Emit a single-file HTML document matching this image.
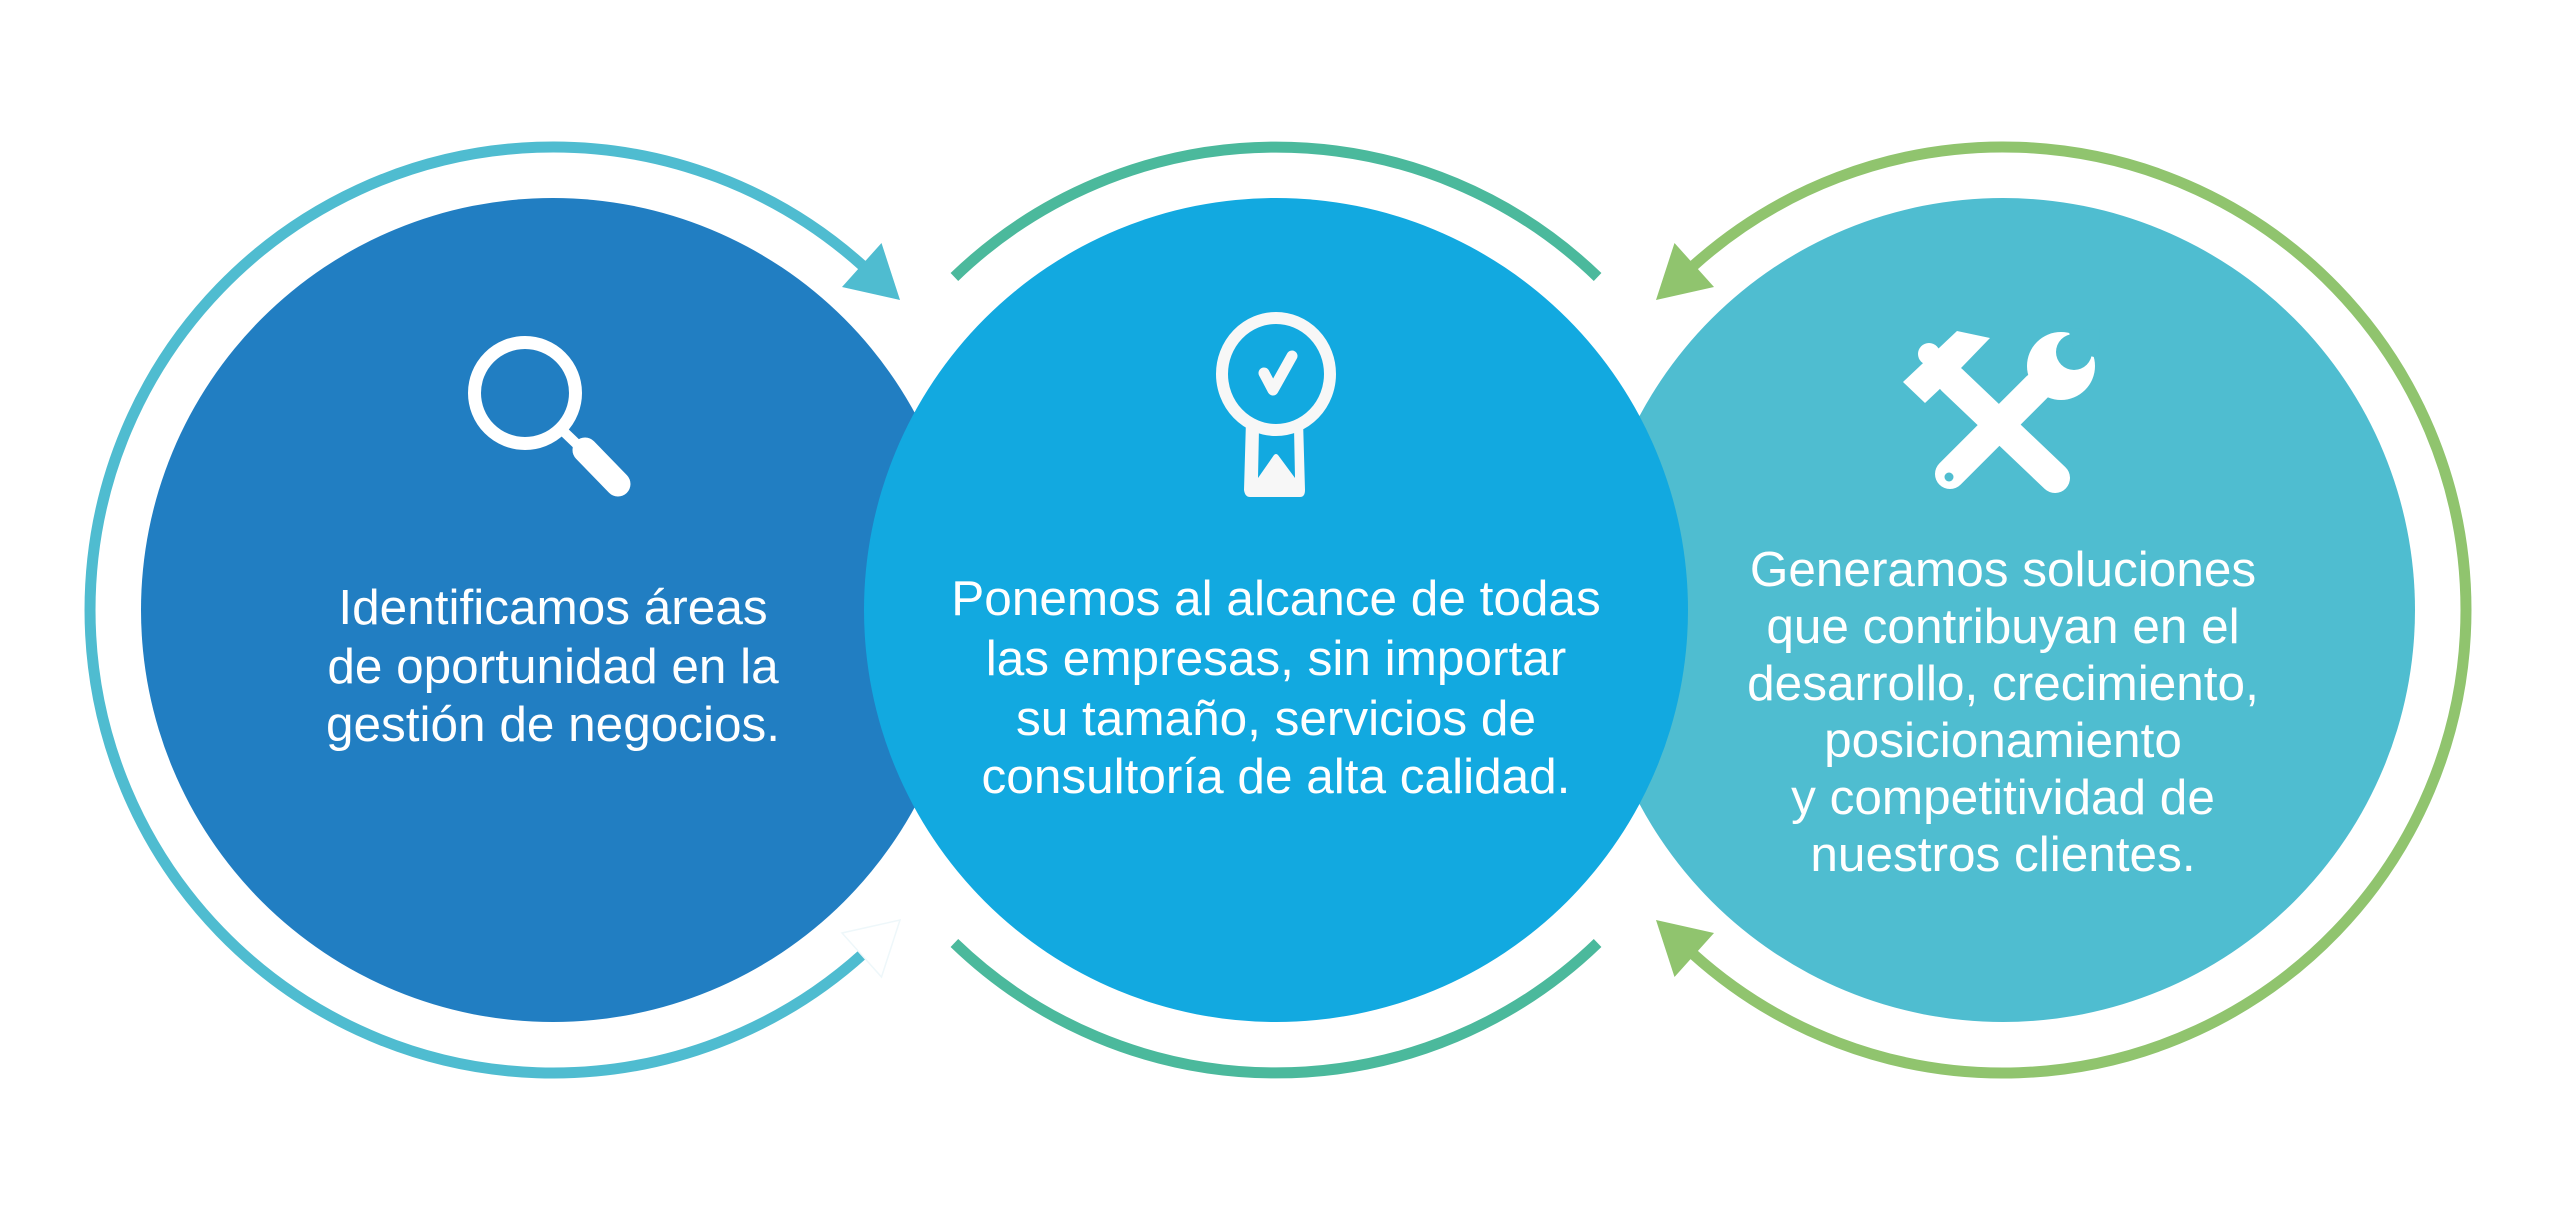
<!DOCTYPE html>
<html><head><meta charset="utf-8"><style>
html,body{margin:0;padding:0;background:#fff;}
svg{display:block}
text{font-family:"Liberation Sans",sans-serif;font-size:49.5px;fill:#fff;text-anchor:middle}
</style></head><body>
<svg width="2550" height="1220" viewBox="0 0 2550 1220" xmlns="http://www.w3.org/2000/svg">
<rect width="2550" height="1220" fill="#fff"/>
<circle cx="553" cy="610" r="412" fill="#217ec2"/>
<circle cx="2003" cy="610" r="412" fill="#4fbdd0"/>
<circle cx="1276" cy="610" r="412" fill="#12a9e0"/>

<path d="M862.8 954.1 A463 463 0 1 1 862.8 265.9" fill="none" stroke="#4fbcd0" stroke-width="11"/>
<polygon points="900,300 881.5,243 842,287" fill="#4fbcd0"/>
<polygon points="900,920 881.5,977 842,933" fill="#fff" stroke="#eef7fa" stroke-width="1.5"/>

<path d="M954.4 277 A463 463 0 0 1 1597.6 277" fill="none" stroke="#4bb99c" stroke-width="11"/>
<path d="M1597.6 943 A463 463 0 0 1 954.4 943" fill="none" stroke="#4bb99c" stroke-width="11"/>

<path d="M1693.2 265.9 A463 463 0 1 1 1693.2 954.1" fill="none" stroke="#90c46e" stroke-width="11"/>
<polygon points="1656,300 1674.5,243 1714,287" fill="#90c46e"/>
<polygon points="1656,920 1674.5,977 1714,933" fill="#90c46e"/>

<circle cx="525" cy="393" r="50.5" fill="none" stroke="#fff" stroke-width="13"/>
<line x1="560" y1="428" x2="585" y2="452" stroke="#fff" stroke-width="10"/>
<line x1="585" y1="450" x2="618" y2="484" stroke="#fff" stroke-width="25" stroke-linecap="round"/>

<ellipse cx="1276" cy="374" rx="54" ry="56" fill="none" stroke="#f7f7f7" stroke-width="12"/>
<polyline points="1264,373 1273,390 1292,356" fill="none" stroke="#f7f7f7" stroke-width="11" stroke-linecap="round" stroke-linejoin="round"/>
<path d="M1246 420 L1244 490 Q1245 497 1250 497 L1300 497 Q1305 497 1305 490 L1303 420 L1294 427 L1295 478 L1278 455 Q1276 453 1274 455 L1258 478 L1259 428 Z" fill="#f7f7f7"/>

<line x1="1952" y1="380" x2="2055" y2="478" stroke="#fff" stroke-width="30" stroke-linecap="round"/>
<polygon points="1903,382 1957,331 1990,338 1962,367 1943,386 1925,403" fill="#fff"/>
<circle cx="1929" cy="354" r="11" fill="#fff"/>
<line x1="2037" y1="387" x2="1950" y2="474" stroke="#fff" stroke-width="30" stroke-linecap="round"/>
<circle cx="2061" cy="366" r="34" fill="#fff"/>
<circle cx="2074" cy="352" r="18" fill="#4fbdd0"/>
<polygon points="2074,352 2068,328 2100,330 2098,358" fill="#4fbdd0"/>
<circle cx="1949" cy="477" r="4.5" fill="#4fbdd0"/>

<text x="553" y="624">Identificamos áreas</text>
<text x="553" y="683">de oportunidad en la</text>
<text x="553" y="741">gestión de negocios.</text>

<text x="1276" y="615">Ponemos al alcance de todas</text>
<text x="1276" y="675">las empresas, sin importar</text>
<text x="1276" y="735">su tamaño, servicios de</text>
<text x="1276" y="793">consultoría de alta calidad.</text>

<text x="2003" y="586">Generamos soluciones</text>
<text x="2003" y="643">que contribuyan en el</text>
<text x="2003" y="700">desarrollo, crecimiento,</text>
<text x="2003" y="757">posicionamiento</text>
<text x="2003" y="814">y competitividad de</text>
<text x="2003" y="871">nuestros clientes.</text>
</svg>
</body></html>
